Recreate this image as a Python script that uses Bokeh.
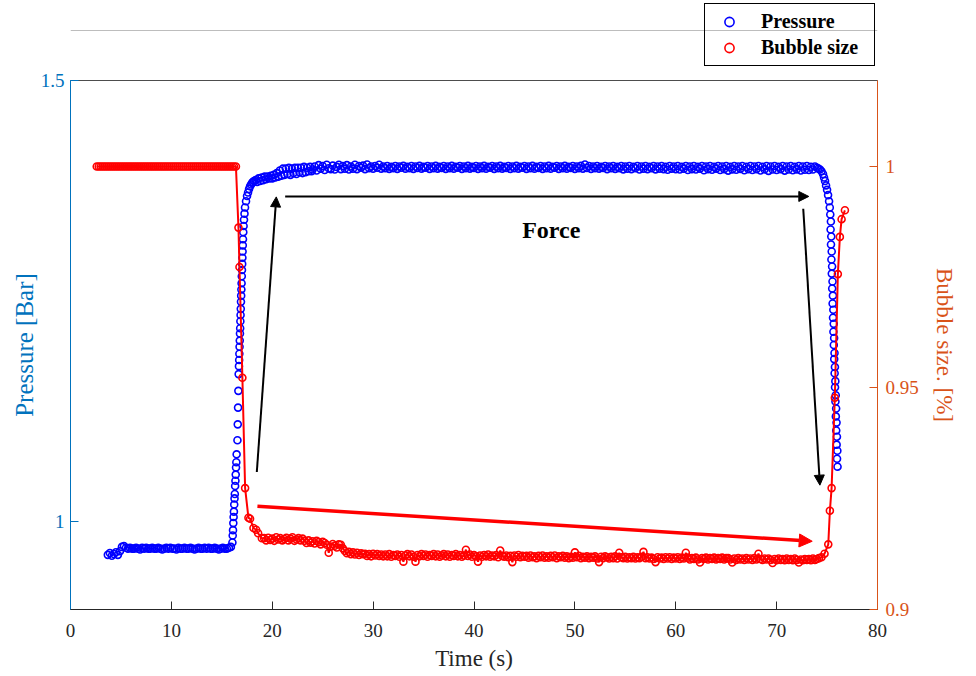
from bokeh.plotting import figure
from bokeh.layouts import column
from bokeh.models import (Range1d, LinearAxis, FixedTicker, CustomJSTickFormatter,
                          Arrow, NormalHead, Label, Legend, LegendItem, Span)
from bokeh.embed import file_html
from bokeh.resources import INLINE

# ---------------- data ----------------
x_ticks = [0, 10, 20, 30, 40, 50, 60, 70, 80]
pressure_ticks = [1.0, 1.5]
bubble_ticks = [0.9, 0.95, 1.0]

pressure_time = [
    # low level
    3.7, 3.9, 4.1, 4.3, 4.5, 4.7, 4.9, 5.1, 5.3, 5.5,
    5.7, 5.9, 6.1, 6.3, 6.5, 6.7, 6.9, 7.1, 7.3, 7.5,
    7.7, 7.9, 8.1, 8.3, 8.5, 8.7, 8.9, 9.1, 9.3, 9.5,
    9.7, 9.9, 10.1, 10.3, 10.5, 10.7, 10.9, 11.1, 11.3, 11.5,
    11.7, 11.9, 12.1, 12.3, 12.5, 12.7, 12.9, 13.1, 13.3, 13.5,
    13.7, 13.9, 14.1, 14.3, 14.5, 14.7, 14.9, 15.1, 15.3, 15.5,
    15.7, 15.9,
    # rise
    16.05, 16.08, 16.11, 16.14, 16.17, 16.20, 16.23, 16.26, 16.29, 16.32, 16.35, 16.38, 16.41, 16.44, 16.47,
    16.55, 16.58, 16.61, 16.64, 16.67,
    16.70, 16.72, 16.74, 16.76, 16.78, 16.80, 16.82, 16.84, 16.86, 16.88, 16.90, 16.92, 16.94,
    16.96, 16.98, 17.00, 17.02, 17.04, 17.06, 17.08, 17.10, 17.13, 17.16, 17.20, 17.25,
    # knee
    17.30, 17.40, 17.50, 17.60, 17.70, 17.80, 17.90, 18.00, 18.10, 18.20,
    18.35, 18.50, 18.65, 18.80, 18.95, 19.10, 19.25, 19.40, 19.55, 19.70,
    19.85, 20.00, 20.15, 20.30, 20.45, 20.60, 20.75, 20.90, 21.05, 21.20,
    21.35, 21.50, 21.65, 21.80, 21.95, 22.10, 22.25, 22.40, 22.55, 22.70,
    22.85, 23.00, 23.15, 23.30, 23.45, 23.60, 23.75, 23.90,
    # plateau
    24.0, 24.2, 24.4, 24.6, 24.8, 25.0, 25.2, 25.4, 25.6, 25.8,
    26.0, 26.2, 26.4, 26.6, 26.8, 27.0, 27.2, 27.4, 27.6, 27.8,
    28.0, 28.2, 28.4, 28.6, 28.8, 29.0, 29.2, 29.4, 29.6, 29.8,
    30.0, 30.2, 30.4, 30.6, 30.8, 31.0, 31.2, 31.4, 31.6, 31.8,
    32.0, 32.2, 32.4, 32.6, 32.8, 33.0, 33.2, 33.4, 33.6, 33.8,
    34.0, 34.2, 34.4, 34.6, 34.8, 35.0, 35.2, 35.4, 35.6, 35.8,
    36.0, 36.2, 36.4, 36.6, 36.8, 37.0, 37.2, 37.4, 37.6, 37.8,
    38.0, 38.2, 38.4, 38.6, 38.8, 39.0, 39.2, 39.4, 39.6, 39.8,
    40.0, 40.2, 40.4, 40.6, 40.8, 41.0, 41.2, 41.4, 41.6, 41.8,
    42.0, 42.2, 42.4, 42.6, 42.8, 43.0, 43.2, 43.4, 43.6, 43.8,
    44.0, 44.2, 44.4, 44.6, 44.8, 45.0, 45.2, 45.4, 45.6, 45.8,
    46.0, 46.2, 46.4, 46.6, 46.8, 47.0, 47.2, 47.4, 47.6, 47.8,
    48.0, 48.2, 48.4, 48.6, 48.8, 49.0, 49.2, 49.4, 49.6, 49.8,
    50.0, 50.2, 50.4, 50.6, 50.8, 51.0, 51.2, 51.4, 51.6, 51.8,
    52.0, 52.2, 52.4, 52.6, 52.8, 53.0, 53.2, 53.4, 53.6, 53.8,
    54.0, 54.2, 54.4, 54.6, 54.8, 55.0, 55.2, 55.4, 55.6, 55.8,
    56.0, 56.2, 56.4, 56.6, 56.8, 57.0, 57.2, 57.4, 57.6, 57.8,
    58.0, 58.2, 58.4, 58.6, 58.8, 59.0, 59.2, 59.4, 59.6, 59.8,
    60.0, 60.2, 60.4, 60.6, 60.8, 61.0, 61.2, 61.4, 61.6, 61.8,
    62.0, 62.2, 62.4, 62.6, 62.8, 63.0, 63.2, 63.4, 63.6, 63.8,
    64.0, 64.2, 64.4, 64.6, 64.8, 65.0, 65.2, 65.4, 65.6, 65.8,
    66.0, 66.2, 66.4, 66.6, 66.8, 67.0, 67.2, 67.4, 67.6, 67.8,
    68.0, 68.2, 68.4, 68.6, 68.8, 69.0, 69.2, 69.4, 69.6, 69.8,
    70.0, 70.2, 70.4, 70.6, 70.8, 71.0, 71.2, 71.4, 71.6, 71.8,
    72.0, 72.2, 72.4, 72.6, 72.8, 73.0, 73.2, 73.4, 73.6, 73.8,
    # release
    74.0, 74.15, 74.3, 74.45, 74.6, 74.7, 74.8, 74.9, 75.0, 75.1, 75.2, 75.27,
    75.32, 75.38, 75.35, 75.42, 75.39, 75.46, 75.43, 75.50, 75.47, 75.54,
    75.51, 75.58, 75.55, 75.62, 75.59, 75.66, 75.63, 75.70, 75.67, 75.74,
    75.71, 75.78, 75.75, 75.82, 75.79, 75.86, 75.83, 75.90, 75.87, 75.94,
    75.91, 75.98, 75.95, 76.02, 75.99, 76.04,
]
pressure_value = [
    # low level
    0.962, 0.964, 0.961, 0.963, 0.965, 0.962, 0.966, 0.971, 0.972, 0.970,
    0.969, 0.970, 0.969, 0.969, 0.970, 0.969, 0.968, 0.970, 0.969, 0.970,
    0.969, 0.969, 0.970, 0.969, 0.969, 0.970, 0.969, 0.968, 0.969, 0.970,
    0.969, 0.970, 0.969, 0.969, 0.968, 0.970, 0.969, 0.969, 0.970, 0.969,
    0.969, 0.970, 0.969, 0.968, 0.969, 0.970, 0.969, 0.969, 0.970, 0.969,
    0.970, 0.969, 0.969, 0.970, 0.969, 0.968, 0.969, 0.970, 0.969, 0.969,
    0.970, 0.971,
    # rise
    0.976, 0.984, 0.990, 0.998, 1.005, 1.011, 1.019, 1.026, 1.031, 1.040, 1.046, 1.053, 1.061, 1.067, 1.076,
    1.092, 1.110, 1.129, 1.148, 1.167,
    1.176, 1.183, 1.190, 1.198, 1.205, 1.213, 1.219, 1.227, 1.234, 1.241, 1.249, 1.256, 1.263,
    1.270, 1.278, 1.285, 1.292, 1.299, 1.306, 1.313, 1.320, 1.328, 1.335, 1.342, 1.349,
    # knee
    1.356, 1.363, 1.369, 1.373, 1.377, 1.380, 1.382, 1.384, 1.385, 1.386,
    1.387, 1.385, 1.389, 1.386, 1.390, 1.387, 1.391, 1.388, 1.391, 1.389,
    1.392, 1.389, 1.393, 1.390, 1.395, 1.391, 1.398, 1.392, 1.400, 1.393,
    1.400, 1.394, 1.401, 1.393, 1.400, 1.395, 1.401, 1.394, 1.401, 1.396,
    1.401, 1.395, 1.402, 1.396, 1.401, 1.397, 1.402, 1.397,
    # plateau
    1.3990, 1.4025, 1.3980, 1.4040, 1.4000, 1.4030, 1.3985, 1.4045, 1.4005, 1.3995,
    1.4035, 1.3990, 1.4020, 1.4045, 1.3995, 1.4030, 1.4000, 1.4040, 1.3990, 1.4025,
    1.4000, 1.4045, 1.3995, 1.4030, 1.4010, 1.4035, 1.3995, 1.4048, 1.4005, 1.4025,
    1.4000, 1.4030, 1.4010, 1.4045, 1.4000, 1.4025, 1.4005, 1.4030, 1.3998, 1.4020,
    1.4005, 1.4030, 1.3998, 1.4025, 1.4010, 1.4032, 1.4000, 1.4022, 1.4005, 1.4030,
    1.3998, 1.4025, 1.4008, 1.4032, 1.4000, 1.4020, 1.4010, 1.4030, 1.3998, 1.4025,
    1.4005, 1.4032, 1.4000, 1.4022, 1.4008, 1.4030, 1.3998, 1.4025, 1.4005, 1.4032,
    1.4000, 1.4022, 1.4010, 1.4030, 1.3998, 1.4025, 1.4005, 1.4032, 1.4000, 1.4020,
    1.4008, 1.4030, 1.3998, 1.4025, 1.4005, 1.4032, 1.4000, 1.4022, 1.4010, 1.4030,
    1.3998, 1.4025, 1.4005, 1.4032, 1.4000, 1.4020, 1.4008, 1.4030, 1.3998, 1.4025,
    1.4005, 1.4032, 1.4000, 1.4022, 1.4010, 1.4030, 1.3998, 1.4025, 1.4005, 1.4032,
    1.4000, 1.4020, 1.4008, 1.4030, 1.3998, 1.4025, 1.4005, 1.4032, 1.4000, 1.4022,
    1.4010, 1.4030, 1.3998, 1.4025, 1.4005, 1.4032, 1.4000, 1.4020, 1.4008, 1.4030,
    1.3998, 1.4025, 1.4005, 1.4032, 1.4000, 1.4048, 1.4008, 1.4030, 1.3998, 1.4025,
    1.4005, 1.4030, 1.4000, 1.4022, 1.4008, 1.4030, 1.3995, 1.4025, 1.4005, 1.4030,
    1.3998, 1.4022, 1.4005, 1.4030, 1.3992, 1.4025, 1.4000, 1.4030, 1.3995, 1.4022,
    1.4005, 1.4030, 1.3990, 1.4025, 1.4000, 1.4030, 1.3995, 1.4022, 1.4005, 1.4030,
    1.3992, 1.4025, 1.4000, 1.4030, 1.3995, 1.4022, 1.3988, 1.4030, 1.4000, 1.4025,
    1.3995, 1.4030, 1.3990, 1.4022, 1.4000, 1.4030, 1.3985, 1.4025, 1.3995, 1.4030,
    1.3990, 1.4022, 1.4000, 1.4030, 1.3982, 1.4025, 1.3995, 1.4030, 1.3988, 1.4022,
    1.4000, 1.4030, 1.3985, 1.4025, 1.3995, 1.4030, 1.3978, 1.4022, 1.3992, 1.4030,
    1.3988, 1.4025, 1.3998, 1.4030, 1.3982, 1.4022, 1.3995, 1.4030, 1.3985, 1.4025,
    1.3995, 1.4030, 1.3980, 1.4022, 1.3992, 1.4030, 1.3975, 1.4025, 1.3990, 1.4030,
    1.3985, 1.4022, 1.3995, 1.4030, 1.3978, 1.4025, 1.3990, 1.4030, 1.3982, 1.4022,
    1.3992, 1.4030, 1.3980, 1.4025, 1.3988, 1.4030, 1.3985, 1.4022, 1.3990, 1.4025,
    # release
    1.4010, 1.4000, 1.3990, 1.3970, 1.3940, 1.3900, 1.3860, 1.3810, 1.3760, 1.3700, 1.3630, 1.3560,
    1.348, 1.340, 1.331, 1.323, 1.314, 1.306, 1.297, 1.289, 1.281, 1.272,
    1.264, 1.256, 1.247, 1.240, 1.231, 1.224, 1.215, 1.208, 1.200, 1.191,
    1.184, 1.175, 1.168, 1.159, 1.152, 1.143, 1.136, 1.128, 1.119, 1.112,
    1.103, 1.096, 1.087, 1.080, 1.071, 1.062,
]

bubble_time = [
    2.6, 2.8, 3.0, 3.2, 3.4, 3.6, 3.8, 4.0, 4.2, 4.4,
    4.6, 4.8, 5.0, 5.2, 5.4, 5.6, 5.8, 6.0, 6.2, 6.4,
    6.6, 6.8, 7.0, 7.2, 7.4, 7.6, 7.8, 8.0, 8.2, 8.4,
    8.6, 8.8, 9.0, 9.2, 9.4, 9.6, 9.8, 10.0, 10.2, 10.4,
    10.6, 10.8, 11.0, 11.2, 11.4, 11.6, 11.8, 12.0, 12.2, 12.4,
    12.6, 12.8, 13.0, 13.2, 13.4, 13.6, 13.8, 14.0, 14.2, 14.4,
    14.6, 14.8, 15.0, 15.2, 15.4, 15.6, 15.8, 16.0, 16.2, 16.4,
    16.65, 16.75, 17.04, 17.31, 17.64, 17.80, 18.14, 18.40, 18.60, 18.97,
    19.2, 19.4, 19.6, 19.8, 20.0, 20.2, 20.4, 20.6, 20.8, 21.0,
    21.2, 21.4, 21.6, 21.8, 22.0, 22.2, 22.4, 22.6, 22.8, 23.0,
    23.2, 23.4, 23.6, 23.8, 24.0, 24.2, 24.4, 24.6, 24.8, 25.0,
    25.2, 25.4, 25.6, 25.8, 26.0, 26.2, 26.4, 26.6, 26.8, 27.0,
    27.2, 27.4, 27.6, 27.8, 28.0, 28.2, 28.4, 28.6, 28.8, 29.0,
    29.2, 29.4, 29.6, 29.8, 30.0, 30.2, 30.4, 30.6, 30.8, 31.0,
    31.2, 31.4, 31.6, 31.8, 32.0, 32.2, 32.4, 32.6, 32.8, 33.0,
    33.2, 33.4, 33.6, 33.8, 34.0, 34.2, 34.4, 34.6, 34.8, 35.0,
    35.2, 35.4, 35.6, 35.8, 36.0, 36.2, 36.4, 36.6, 36.8, 37.0,
    37.2, 37.4, 37.6, 37.8, 38.0, 38.2, 38.4, 38.6, 38.8, 39.0,
    39.2, 39.4, 39.6, 39.8, 40.0, 40.2, 40.4, 40.6, 40.8, 41.0,
    41.2, 41.4, 41.6, 41.8, 42.0, 42.2, 42.4, 42.6, 42.8, 43.0,
    43.2, 43.4, 43.6, 43.8, 44.0, 44.2, 44.4, 44.6, 44.8, 45.0,
    45.2, 45.4, 45.6, 45.8, 46.0, 46.2, 46.4, 46.6, 46.8, 47.0,
    47.2, 47.4, 47.6, 47.8, 48.0, 48.2, 48.4, 48.6, 48.8, 49.0,
    49.2, 49.4, 49.6, 49.8, 50.0, 50.2, 50.4, 50.6, 50.8, 51.0,
    51.2, 51.4, 51.6, 51.8, 52.0, 52.2, 52.4, 52.6, 52.8, 53.0,
    53.2, 53.4, 53.6, 53.8, 54.0, 54.2, 54.4, 54.6, 54.8, 55.0,
    55.2, 55.4, 55.6, 55.8, 56.0, 56.2, 56.4, 56.6, 56.8, 57.0,
    57.2, 57.4, 57.6, 57.8, 58.0, 58.2, 58.4, 58.6, 58.8, 59.0,
    59.2, 59.4, 59.6, 59.8, 60.0, 60.2, 60.4, 60.6, 60.8, 61.0,
    61.2, 61.4, 61.6, 61.8, 62.0, 62.2, 62.4, 62.6, 62.8, 63.0,
    63.2, 63.4, 63.6, 63.8, 64.0, 64.2, 64.4, 64.6, 64.8, 65.0,
    65.2, 65.4, 65.6, 65.8, 66.0, 66.2, 66.4, 66.6, 66.8, 67.0,
    67.2, 67.4, 67.6, 67.8, 68.0, 68.2, 68.4, 68.6, 68.8, 69.0,
    69.2, 69.4, 69.6, 69.8, 70.0, 70.2, 70.4, 70.6, 70.8, 71.0,
    71.2, 71.4, 71.6, 71.8, 72.0, 72.2, 72.4, 72.6, 72.8, 73.0,
    73.2, 73.4, 73.6, 73.8, 74.0, 74.2,
    74.45, 74.75, 75.12, 75.28, 75.45, 75.77, 76.07, 76.27, 76.44, 76.77,
]
bubble_value = [
    1.0, 1.0, 1.0, 1.0, 1.0, 1.0, 1.0, 1.0, 1.0, 1.0,
    1.0, 1.0, 1.0, 1.0, 1.0, 1.0, 1.0, 1.0, 1.0, 1.0,
    1.0, 1.0, 1.0, 1.0, 1.0, 1.0, 1.0, 1.0, 1.0, 1.0,
    1.0, 1.0, 1.0, 1.0, 1.0, 1.0, 1.0, 1.0, 1.0, 1.0,
    1.0, 1.0, 1.0, 1.0, 1.0, 1.0, 1.0, 1.0, 1.0, 1.0,
    1.0, 1.0, 1.0, 1.0, 1.0, 1.0, 1.0, 1.0, 1.0, 1.0,
    1.0, 1.0, 1.0, 1.0, 1.0, 1.0, 1.0, 1.0, 1.0, 1.0,
    0.9862, 0.9773, 0.9523, 0.9274, 0.9207, 0.9205, 0.9184, 0.9180, 0.9172, 0.9161,
    0.9161, 0.9156, 0.9162, 0.9157, 0.9160, 0.9155, 0.9163, 0.9158, 0.9161, 0.9156,
    0.9159, 0.9162, 0.9156, 0.9160, 0.9163, 0.9155, 0.9158, 0.9161, 0.9156, 0.9160,
    0.9155, 0.9150, 0.9156, 0.9151, 0.9154, 0.9149, 0.9155, 0.9152, 0.9147, 0.9153,
    0.9150, 0.9146, 0.9128, 0.9142, 0.9148, 0.9144, 0.9140, 0.9147, 0.9146, 0.9138,
    0.9132, 0.9127, 0.9130, 0.9125, 0.9129, 0.9124, 0.9128, 0.9123, 0.9127, 0.9125,
    0.9126, 0.9121, 0.9125, 0.9120, 0.9126, 0.9122, 0.9125, 0.9121, 0.9124, 0.9120,
    0.9124, 0.9120, 0.9125, 0.9119, 0.9123, 0.9121, 0.9124, 0.9119, 0.9123, 0.9108,
    0.9122, 0.9125, 0.9120, 0.9124, 0.9119, 0.9108, 0.9123, 0.9120, 0.9125, 0.9121,
    0.9124, 0.9119, 0.9123, 0.9121, 0.9125, 0.9120, 0.9124, 0.9119, 0.9122, 0.9125,
    0.9120, 0.9124, 0.9119, 0.9123, 0.9121, 0.9125, 0.9120, 0.9123, 0.9119, 0.9122,
    0.9135, 0.9121, 0.9124, 0.9119, 0.9123, 0.9120, 0.9108, 0.9122, 0.9119, 0.9123,
    0.9120, 0.9124, 0.9119, 0.9122, 0.9120, 0.9123, 0.9118, 0.9133, 0.9121, 0.9119,
    0.9122, 0.9118, 0.9121, 0.9107, 0.9122, 0.9119, 0.9123, 0.9118, 0.9121, 0.9119,
    0.9121, 0.9117, 0.9122, 0.9118, 0.9120, 0.9116, 0.9121, 0.9118, 0.9122, 0.9117,
    0.9120, 0.9117, 0.9121, 0.9118, 0.9122, 0.9116, 0.9120, 0.9118, 0.9121, 0.9117,
    0.9120, 0.9116, 0.9119, 0.9117, 0.9129, 0.9118, 0.9121, 0.9116, 0.9119, 0.9117,
    0.9120, 0.9116, 0.9119, 0.9117, 0.9120, 0.9115, 0.9107, 0.9119, 0.9116, 0.9120,
    0.9118, 0.9115, 0.9119, 0.9116, 0.9120, 0.9115, 0.9128, 0.9118, 0.9116, 0.9119,
    0.9115, 0.9118, 0.9116, 0.9119, 0.9115, 0.9118, 0.9116, 0.9119, 0.9130, 0.9116,
    0.9118, 0.9115, 0.9117, 0.9114, 0.9107, 0.9118, 0.9115, 0.9117, 0.9114, 0.9118,
    0.9115, 0.9118, 0.9114, 0.9117, 0.9115, 0.9118, 0.9114, 0.9117, 0.9115, 0.9128,
    0.9117, 0.9113, 0.9116, 0.9114, 0.9117, 0.9113, 0.9106, 0.9116, 0.9114, 0.9117,
    0.9113, 0.9116, 0.9114, 0.9117, 0.9113, 0.9116, 0.9114, 0.9117, 0.9113, 0.9116,
    0.9116, 0.9113, 0.9106, 0.9115, 0.9112, 0.9116, 0.9113, 0.9115, 0.9112, 0.9116,
    0.9113, 0.9115, 0.9112, 0.9116, 0.9113, 0.9126, 0.9114, 0.9112, 0.9115, 0.9113,
    0.9115, 0.9112, 0.9105, 0.9114, 0.9111, 0.9115, 0.9112, 0.9114, 0.9111, 0.9115,
    0.9112, 0.9114, 0.9111, 0.9115, 0.9112, 0.9106, 0.9113, 0.9111, 0.9114, 0.9112,
    0.9114, 0.9111, 0.9115, 0.9112, 0.9114, 0.9116,
    0.9118, 0.9126, 0.9147, 0.9223, 0.9274, 0.9478, 0.9757, 0.9841, 0.9881, 0.9901,
]

# annotation arrows: (x_start, y_start, x_end, y_end)
black_arrows = [
    (18.47, 1.056, 20.40, 1.368),
    (21.28, 1.3685, 73.19, 1.3685),
    (72.64, 1.3545, 74.29, 1.041),
]
red_arrow = (18.53, 0.9233, 73.53, 0.9154)
force_label = ("Force", 47.66, 1.331)

# ---------------- styling ----------------
SERIF = "Liberation Serif"
BLUE_AX = "#0072BD"
ORANGE_AX = "#D95319"
DARK = "#262626"
BLUE = "#0000FF"
RED = "#FF0000"

# ---- top strip: legend box and the faint page rule ----
TOP_H = 68
top = figure(width=976, height=TOP_H, x_range=Range1d(0, 807), y_range=Range1d(0, TOP_H),
             x_axis_type=None, y_axis_type=None, output_backend="svg",
             toolbar_location=None, min_border=0)
top.outline_line_color = None
top.border_fill_color = "white"
top.background_fill_color = "white"
# series are plotted here against a range that keeps them out of view; they only
# provide the legend swatches (same styling as in the main axes)
top.extra_y_ranges = {"offview": Range1d(100, 200)}
top.add_layout(Span(location=TOP_H - 30, dimension="width", line_color="#bdbdbd", line_width=1))
leg_p = top.scatter(pressure_time, pressure_value, y_range_name="offview", marker="circle",
                    size=7, fill_color=None, line_color=BLUE, line_width=1.6)
leg_b = top.scatter(bubble_time, bubble_value, y_range_name="offview", marker="circle",
                    size=7, fill_color=None, line_color=RED, line_width=1.6)
legend = Legend(items=[LegendItem(label="Pressure", renderers=[leg_p]),
                       LegendItem(label="Bubble size", renderers=[leg_b])],
                location=(634, 2), orientation="vertical",
                label_text_font=SERIF, label_text_font_style="bold", label_text_font_size="20px",
                label_text_color="black", border_line_color="black", border_line_width=1,
                border_line_alpha=1, background_fill_alpha=0,
                padding=6, spacing=3, glyph_width=36, glyph_height=23, label_height=23,
                label_width=107, label_standoff=14, margin=0)
top.add_layout(legend, "center")

# ---- main axes ----
p = figure(width=976, height=676 - TOP_H, x_range=Range1d(0, 80), y_range=Range1d(0.9, 1.5),
           x_axis_type=None, y_axis_type=None,
           output_backend="svg", toolbar_location=None,
           min_border_left=70, min_border_right=99, min_border_top=12, min_border_bottom=67)
p.extra_y_ranges = {"bub": Range1d(0.9, 1.0194)}
p.outline_line_color = "#4d4d4d"
p.outline_line_width = 1
p.background_fill_color = "white"
p.border_fill_color = "white"

fmt = CustomJSTickFormatter(code="return tick.toString();")


def style_axis(ax, color, label_size, label_standoff, major_standoff):
    ax.axis_line_color = color
    ax.major_tick_line_color = color
    ax.minor_tick_line_color = None
    ax.major_tick_in = 8
    ax.major_tick_out = 0
    ax.major_label_text_font = SERIF
    ax.major_label_text_font_size = "19px"
    ax.major_label_text_color = color
    ax.major_label_standoff = major_standoff
    ax.axis_label_text_font = SERIF
    ax.axis_label_text_font_size = label_size
    ax.axis_label_text_font_style = "normal"
    ax.axis_label_text_color = color
    ax.axis_label_standoff = label_standoff


xaxis = LinearAxis(ticker=FixedTicker(ticks=x_ticks), axis_label="Time (s)")
style_axis(xaxis, DARK, "23px", 6, 14)
p.add_layout(xaxis, "below")

yaxis = LinearAxis(ticker=FixedTicker(ticks=pressure_ticks), formatter=fmt,
                   axis_label="Pressure [Bar]")
style_axis(yaxis, BLUE_AX, "25px", 0, 6)
p.add_layout(yaxis, "left")

raxis = LinearAxis(y_range_name="bub", ticker=FixedTicker(ticks=bubble_ticks),
                   formatter=fmt, axis_label="Bubble size. [%]")
style_axis(raxis, ORANGE_AX, "23px", 10, 8)
p.add_layout(raxis, "right")

# ---------------- data glyphs ----------------
p.scatter(pressure_time, pressure_value, marker="circle", size=7,
          fill_color=None, line_color=BLUE, line_width=1.6)
p.line(bubble_time, bubble_value, y_range_name="bub", line_color=RED, line_width=2)
p.scatter(bubble_time, bubble_value, y_range_name="bub", marker="circle", size=7,
          fill_color=None, line_color=RED, line_width=1.6)

# ---------------- annotations ----------------
for (xs, ys, xe, ye) in black_arrows:
    p.add_layout(Arrow(x_start=xs, y_start=ys, x_end=xe, y_end=ye,
                       line_color="black", line_width=2,
                       end=NormalHead(size=10, fill_color="black", line_color="black", line_width=1)))
p.add_layout(Arrow(x_start=red_arrow[0], y_start=red_arrow[1], x_end=red_arrow[2], y_end=red_arrow[3],
                   y_range_name="bub", line_color=RED, line_width=3.5,
                   end=NormalHead(size=13, fill_color=RED, line_color=RED, line_width=1)))

p.add_layout(Label(x=force_label[1], y=force_label[2], text=force_label[0],
                   text_font=SERIF, text_font_style="bold", text_font_size="24px",
                   text_color="black", text_align="center", text_baseline="middle"))

layout = column(top, p, spacing=0)
open("out.html", "w").write(file_html(layout, INLINE))
